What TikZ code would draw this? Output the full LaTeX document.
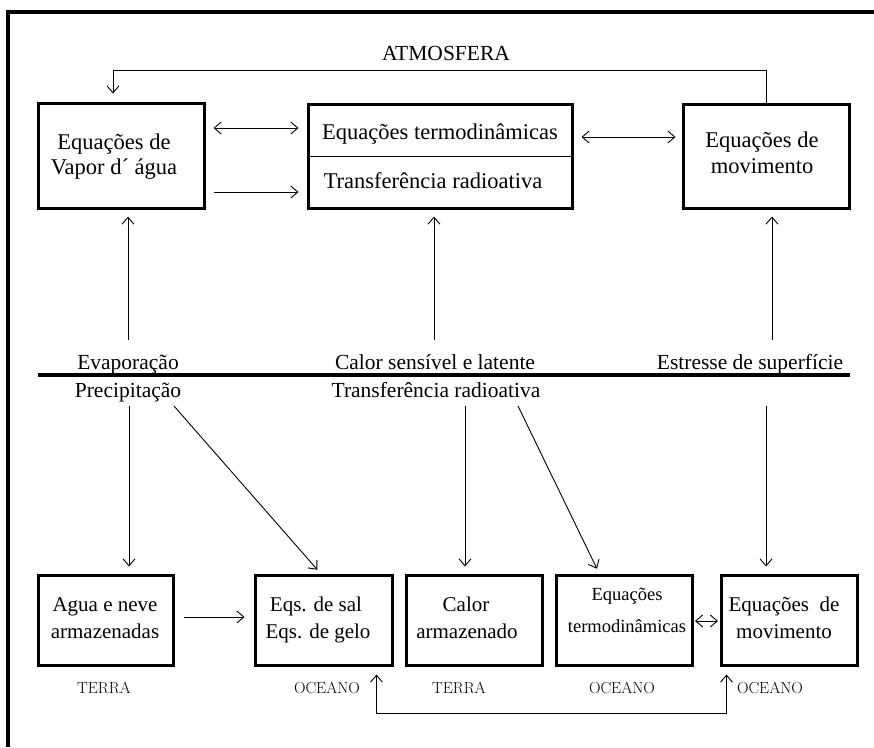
\documentclass[tikz,border=0pt]{standalone}
\usepackage{fontspec}
\newfontfamily\tnr{Liberation Serif}
\usetikzlibrary{arrows.meta,calc}
\begin{document}
\begin{tikzpicture}[x=1pt,y=-1pt,
  tip/.tip={Straight Barb[length=7pt,width=12pt,line width=0.9pt]},
  box/.style={draw, line width=3pt, inner sep=0pt, align=center},
  topfont/.style={font=\tnr\fontsize{22.5}{25}\selectfont},
  botfont/.style={font=\tnr\fontsize{21}{28}\selectfont},
  txt/.style={anchor=base, inner sep=0pt},
  conn/.style={line width=0.9pt, -tip},
  dconn/.style={line width=0.9pt, tip-tip},
  lab/.style={font=\tnr\fontsize{21.5}{26}\selectfont, inner sep=0pt, anchor=base},
  small/.style={font=\fontsize{16}{18}\selectfont, inner sep=0pt, anchor=base}
]
\useasboundingbox (0,0) rectangle (874,747);
\fill[white] (0,0) rectangle (874,747);
% frame
\coordinate (fbl) at (8,747);
\coordinate (ftl) at (8,12);
\coordinate (ftr) at (874,12);
\draw[line width=3.5pt] (fbl) -- (ftl) -- (ftr);

% title
\node[lab] (atm) at (446,60) {ATMOSFERA};

% top boxes
\node[box, minimum width=166pt, minimum height=105pt] (vap) at (121,155.5) {};
\node[topfont, txt] (vapa) at (114,149) {Equações de};
\node[topfont, txt] (vapb) at (114,174) {Vapor d´ água};
\node[box, minimum width=264pt, minimum height=104pt] (termo) at (440,156) {};
\draw[line width=0.9pt] (termo.west) -- (termo.east);
\node[topfont, txt] (t1) at (440,139) {Equações termodinâmicas};
\node[topfont, txt] (t2) at (433,188) {Transferência radioativa};
\node[box, minimum width=166pt, minimum height=104pt] (mov) at (766,156) {};
\node[topfont, txt] (mova) at (762,147) {Equações de};
\node[topfont, txt] (movb) at (762,173) {movimento};

% feedback arrow
\draw[conn] (mov.north) -- ++(0,-32) -| ([xshift=-8pt,yshift=8pt]vap.north);

% arrows between top boxes
\coordinate (ya) at (0,128);
\coordinate (yb) at (0,192);
\coordinate (yc) at (0,137);
\draw[dconn] ([xshift=8pt]vap.east |- ya) -- ([xshift=-8pt]termo.west |- ya);
\draw[conn] ([xshift=8pt]vap.east |- yb) -- ([xshift=-8pt]termo.west |- yb);
\draw[dconn] ([xshift=8pt]termo.east |- yc) -- ([xshift=-6pt]mov.west |- yc);

% surface labels and line
\node[lab] (evap) at (128,369) {Evaporação};
\node[lab] (calor) at (435,369) {Calor sensível e latente};
\node[lab] (estr) at (750,369) {Estresse de superfície};
\coordinate (sl) at (38,375);
\coordinate (sr) at (850,375);
\draw[line width=3.5pt] (sl) -- (sr);
\node[lab] (prec) at (128,397) {Precipitação};
\node[lab] (transf) at (436,397) {Transferência radioativa};

% upward arrows
\coordinate (u1) at (128,340);
\coordinate (u2) at (434,340);
\coordinate (u3) at (772,340);
\draw[conn, shorten >=7pt] (u1) -- (u1 |- vap.south);
\draw[conn, shorten >=7pt] (u2) -- (u2 |- termo.south);
\draw[conn, shorten >=7pt] (u3) -- (u3 |- mov.south);

% bottom boxes
\node[box, minimum width=135pt, minimum height=90pt] (b1) at (105.5,620) {};
\node[box, minimum width=137pt, minimum height=90pt] (b2) at (323.5,620) {};
\node[box, minimum width=136pt, minimum height=90pt] (b3) at (474,620) {};
\node[box, minimum width=136pt, minimum height=90pt] (b4) at (624,620) {};
\node[box, minimum width=136pt, minimum height=90pt] (b5) at (789,620) {};
\node[botfont, txt] (b1a) at (105,611) {Agua e neve};
\node[botfont, txt] (b1b) at (105,638) {armazenadas};
\node[botfont, txt] (b2a) at (316,611) {Eqs. de sal};
\node[botfont, txt] (b2b) at (318,638) {Eqs. de gelo};
\node[botfont, txt] (b3a) at (466,611) {Calor};
\node[botfont, txt] (b3b) at (467,638) {armazenado};
\node[font=\tnr\fontsize{18.5}{22}\selectfont, txt] (b4a) at (627,600) {Equações};
\node[font=\tnr\fontsize{18.5}{22}\selectfont, txt] (b4b) at (627,632) {termodinâmicas};
\node[botfont, txt] (b5a) at (784,611) {Equações~ de};
\node[botfont, txt] (b5b) at (784,638) {movimento};

% downward arrows
\coordinate (d1) at (129,406);
\coordinate (d2) at (174,406);
\coordinate (d3) at (465,406);
\coordinate (d4) at (518,406);
\coordinate (d5) at (766,406);
\coordinate (e2) at (322,575);
\coordinate (e4) at (600,575);
\draw[conn, shorten >=7pt] (d1) -- (d1 |- b1.north);
\draw[conn, shorten >=7pt] (d2) -- (e2);
\draw[conn, shorten >=7pt] (d3) -- (d3 |- b3.north);
\draw[conn, shorten >=7pt] (d4) -- (e4);
\draw[conn, shorten >=7pt] (d5) -- (d5 |- b5.north);

% arrows between bottom boxes
\coordinate (yd) at (0,617);
\coordinate (ye) at (0,621);
\draw[conn] ([xshift=9pt]b1.east |- yd) -- ([xshift=-9pt]b2.west |- yd);
\draw[dconn] ([xshift=1.5pt]b4.east |- ye) -- ([xshift=-1.5pt]b5.west |- ye);
\draw[dconn] ([xshift=-17pt,yshift=-8pt]b2.south east) -- ++(0,39) -| ([xshift=7pt,yshift=-8pt]b5.south west);

% domain labels
\node[small] (l1) at (104,693) {TERRA};
\node[small] (l2) at (327,693) {OCEANO};
\node[small] (l3) at (459,693) {TERRA};
\node[small] (l4) at (622,693) {OCEANO};
\node[small] (l5) at (770,693) {OCEANO};
\end{tikzpicture}
\end{document}
